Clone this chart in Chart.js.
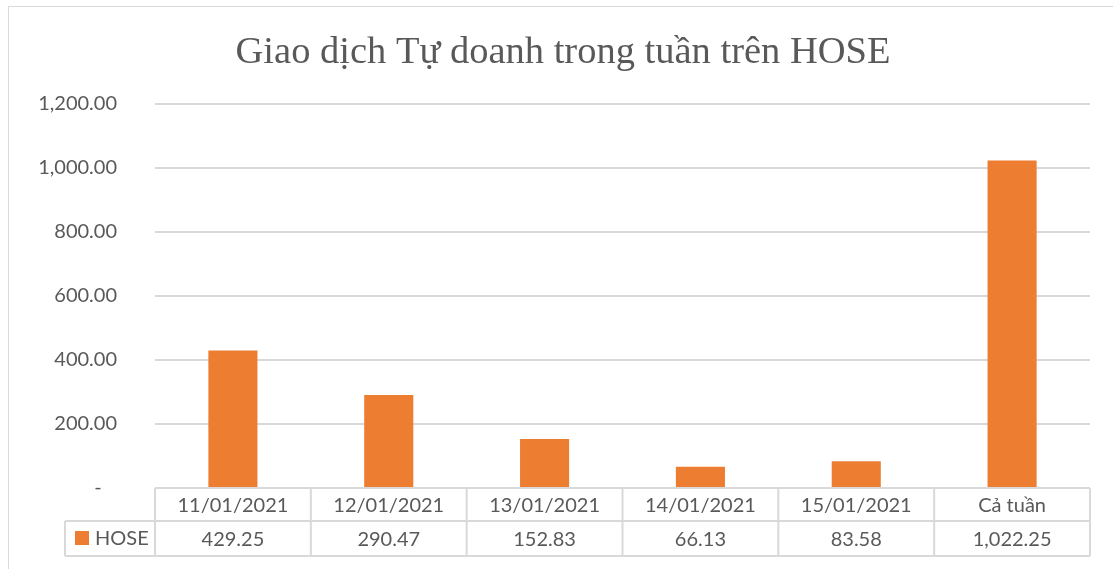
<!DOCTYPE html>
<html>
<head>
<meta charset="utf-8">
<script src="https://cdn.jsdelivr.net/npm/chart.js@4/dist/chart.umd.min.js"></script>
<style>
    html, body { margin: 0; padding: 0; background: #fff; }
    #wrap { position: relative; width: 1113px; height: 569px; }
    #frame { position: absolute; left: 8px; top: 6px; width: 1110px; height: 570px; border: 1px solid #d9d9d9; box-sizing: border-box; }
</style>
</head>
<body>
<div id="wrap">
    <div id="frame"></div>
    <canvas id="chart" width="1113" height="569"></canvas>
</div>
<script>
// Dữ liệu
const categories = ['11/01/2021', '12/01/2021', '13/01/2021', '14/01/2021', '15/01/2021', 'Cả tuần'];
const seriesName = 'HOSE';
const hoseValues = [429.25, 290.47, 152.83, 66.13, 83.58, 1022.25];
const yTicks = [0, 200, 400, 600, 800, 1000, 1200];

const ORANGE = '#ED7D31';
const TEXT = '#595959';
const GRID = '#d9d9d9';
const FONT = 'Lato, "Open Sans", sans-serif';

function fmt(v) {
    if (v === 0) return '-   ';
    return Number(v).toLocaleString('en-US', { minimumFractionDigits: 2, maximumFractionDigits: 2 });
}

/**
 * Vẽ bảng dữ liệu bên dưới trục X (giống Excel).
 */
const dataTablePlugin = {
    id: 'dataTable',
    afterDraw(chart) {
        const ctx = chart.ctx;
        const x = chart.scales.x;
        const area = chart.chartArea;
        const top = area.bottom;
        const rowH = 33;
        const mid = top + rowH;
        const bottom = mid + 35;
        const labelLeft = 65;
        const half = (x.getPixelForValue(1) - x.getPixelForValue(0)) / 2;

        ctx.save();
        ctx.strokeStyle = GRID;
        ctx.lineWidth = 2;
        ctx.beginPath();
        ctx.moveTo(area.left, top); ctx.lineTo(area.right, top);
        ctx.moveTo(labelLeft, mid); ctx.lineTo(area.right, mid);
        ctx.moveTo(labelLeft, bottom); ctx.lineTo(area.right, bottom);
        ctx.moveTo(labelLeft, mid); ctx.lineTo(labelLeft, bottom);
        categories.forEach((c, i) => {
            const cx = x.getPixelForValue(i);
            ctx.moveTo(cx - half, top); ctx.lineTo(cx - half, bottom);
        });
        ctx.moveTo(area.right, top); ctx.lineTo(area.right, bottom);
        ctx.stroke();

        ctx.fillStyle = TEXT;
        ctx.font = '20px ' + FONT;
        ctx.textAlign = 'center';
        ctx.textBaseline = 'middle';
        categories.forEach((c, i) => {
            const cx = x.getPixelForValue(i);
            ctx.fillText(c, cx, top + rowH / 2 + 1);
            ctx.fillText(fmt(hoseValues[i]), cx, mid + (bottom - mid) / 2 + 1);
        });

        // chú thích
        ctx.fillStyle = ORANGE;
        ctx.fillRect(75, mid + 17 - 7, 14, 14);
        ctx.fillStyle = TEXT;
        ctx.textAlign = 'left';
        ctx.fillText(seriesName, 95, mid + 18);
        ctx.restore();
    }
};

const ctx = document.getElementById('chart').getContext('2d');
new Chart(ctx, {
    type: 'bar',
    data: {
        labels: categories,
        datasets: [{
            label: seriesName,
            data: hoseValues,
            backgroundColor: ORANGE,
            borderWidth: 0,
            categoryPercentage: 1,
            barPercentage: 0.315
        }]
    },
    options: {
        responsive: false,
        animation: false,
        layout: { padding: { left: 36, right: 23, top: 0, bottom: 13 } },
        plugins: {
            legend: { display: false },
            tooltip: { enabled: false },
            title: {
                display: true,
                text: 'Giao dịch Tự doanh trong tuần trên HOSE',
                color: TEXT,
                font: { family: '"Liberation Serif", serif', size: 38.5, weight: 'normal' },
                padding: { top: 30, bottom: 27.5 }
            }
        },
        scales: {
            x: {
                grid: { display: false },
                border: { display: false },
                ticks: { display: false },
                afterFit(scale) { scale.height = 68; }
            },
            y: {
                min: 0,
                max: 1200,
                afterBuildTicks(scale) { scale.ticks = yTicks.map(v => ({ value: v })); },
                grid: { color: GRID, lineWidth: 2, drawTicks: false },
                border: { display: false },
                ticks: {
                    color: TEXT,
                    font: { family: FONT, size: 20 },
                    padding: 38,
                    callback: v => fmt(v)
                },
                afterFit(scale) { scale.width = 119; }
            }
        }
    },
    plugins: [dataTablePlugin]
});
</script>
</body>
</html>
